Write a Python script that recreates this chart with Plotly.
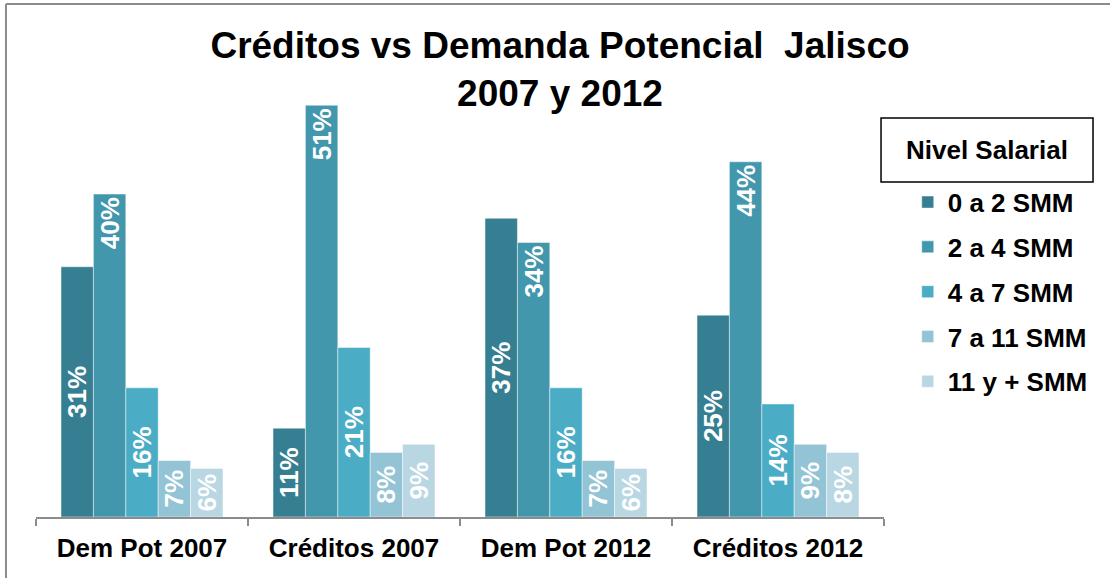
import plotly.graph_objects as go

categories = ["Dem Pot 2007", "Créditos 2007", "Dem Pot 2012", "Créditos 2012"]
series_names = ["0 a 2 SMM", "2 a 4 SMM", "4 a 7 SMM", "7 a 11 SMM", "11 y + SMM"]
s_0a2 = [31, 11, 37, 25]
s_2a4 = [40, 51, 34, 44]
s_4a7 = [16, 21, 16, 14]
s_7a11 = [7, 8, 7, 9]
s_11mas = [6, 9, 6, 8]
series_values = [s_0a2, s_2a4, s_4a7, s_7a11, s_11mas]
colors = ["#367f92", "#4297ad", "#4bacc6", "#93c4d5", "#b9d7e3"]
anchors = ["middle", "end", "middle", "middle", "middle"]

FONT = "Liberation Sans, Arial, sans-serif"

fig = go.Figure()
for name, vals, col, anc in zip(series_names, series_values, colors, anchors):
    fig.add_trace(go.Bar(
        name=name, x=categories, y=vals,
        marker=dict(color=col, line=dict(color="rgba(255,255,255,0.45)", width=1)),
        text=[f"{v}%" for v in vals],
        textposition="inside", insidetextanchor=anc,
        textangle=-90, constraintext="none",
        textfont=dict(family=FONT, size=26, color="white", weight="bold"),
        legendgroup=name,
        hoverinfo="x+y+name",
    ))

fig.update_layout(
    width=1110, height=578,
    margin=dict(l=36, r=226, t=73, b=61),
    paper_bgcolor="white", plot_bgcolor="white",
    barmode="group", bargap=0.236, bargroupgap=0,
    title=dict(text="<b>Créditos vs Demanda Potencial  Jalisco<br>2007 y 2012</b>",
               x=0.5045, xanchor="center", y=0.9, yanchor="middle",
               yref="container",
               font=dict(family=FONT, size=37, color="black")),
    font=dict(family=FONT, color="black"),
    showlegend=True,
    legend=dict(x=1.028, xanchor="left", y=0.762, yanchor="top",
                font=dict(family=FONT, size=26, color="black", weight="bold"),
                tracegroupgap=8, bgcolor="rgba(0,0,0,0)"),
    xaxis=dict(showline=True, linecolor="#8c8c8c", linewidth=2,
               ticks="outside", tickson="boundaries", ticklen=7, tickcolor="#8c8c8c",
               tickwidth=2, ticklabelstandoff=7,
               tickfont=dict(family=FONT, size=26, color="black", weight="bold"),
               showgrid=False),
    yaxis=dict(range=[0, 55], visible=False, showgrid=False, zeroline=False),
    shapes=[
        dict(type="rect", xref="paper", yref="paper",
             x0=0.9965, x1=1.2465, y0=0.7545, y1=0.8986,
             line=dict(color="black", width=1.5), fillcolor="white"),
        dict(type="line", xref="paper", yref="paper",
             x0=-0.0354, x1=1.3, y0=1.1554, y1=1.1554,
             line=dict(color="#8c8c8c", width=2)),
        dict(type="line", xref="paper", yref="paper",
             x0=-0.0354, x1=-0.0354, y0=1.1554, y1=-0.2,
             line=dict(color="#8c8c8c", width=2)),
    ],
    annotations=[
        dict(text="<b>Nivel Salarial</b>", xref="paper", yref="paper",
             x=1.1215, y=0.8265, xanchor="center", yanchor="middle", showarrow=False,
             font=dict(family=FONT, size=26, color="black")),
    ],
)

fig.write_html("out.html")
